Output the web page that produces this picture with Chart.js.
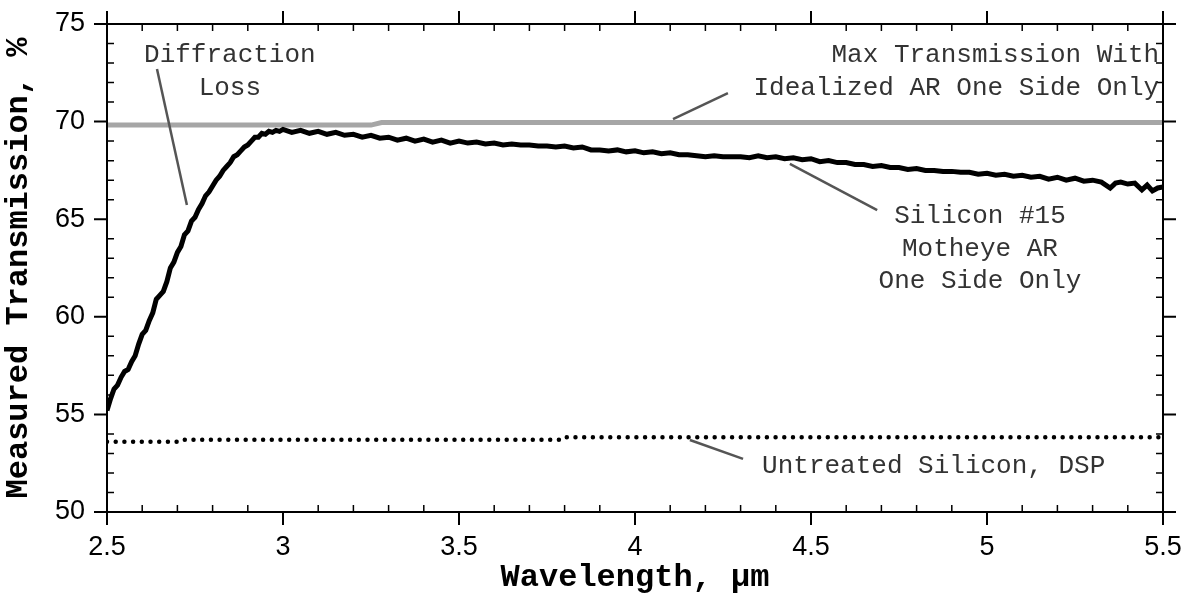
<!DOCTYPE html>
<html>
<head>
<meta charset="utf-8">
<script src="https://cdn.jsdelivr.net/npm/chart.js@4.4.1/dist/chart.umd.min.js"></script>
<style>
  html, body { margin: 0; padding: 0; background: #fff; }
  canvas { display: block; }
</style>
</head>
<body>
<canvas id="chart" width="1190" height="594"></canvas>
<script>
// measured curve, Silicon #15 motheye AR one side
var wavelength = [2.50, 2.51, 2.52, 2.53, 2.54, 2.55, 2.56, 2.57, 2.58, 2.59, 2.60, 2.61, 2.62, 2.63, 2.64,
  2.65, 2.66, 2.67, 2.68, 2.69, 2.70, 2.71, 2.72, 2.73, 2.74, 2.75, 2.76, 2.77, 2.78, 2.79, 2.80, 2.81,
  2.82, 2.83, 2.84, 2.85, 2.86, 2.87, 2.88, 2.89, 2.90, 2.91, 2.92, 2.93, 2.94, 2.95, 2.96, 2.97, 2.98,
  2.99, 3.00, 3.025, 3.05, 3.075, 3.10, 3.125, 3.15, 3.175, 3.20, 3.225, 3.25, 3.275, 3.30, 3.325, 3.35,
  3.375, 3.40, 3.425, 3.45, 3.475, 3.50, 3.525, 3.55, 3.575, 3.60, 3.625, 3.65, 3.675, 3.70, 3.725, 3.75,
  3.775, 3.80, 3.825, 3.85, 3.875, 3.90, 3.925, 3.95, 3.975, 4.00, 4.025, 4.05, 4.075, 4.10, 4.125, 4.15,
  4.175, 4.20, 4.225, 4.25, 4.275, 4.30, 4.325, 4.35, 4.375, 4.40, 4.425, 4.45, 4.475, 4.50, 4.525, 4.55,
  4.575, 4.60, 4.625, 4.65, 4.675, 4.70, 4.725, 4.75, 4.775, 4.80, 4.825, 4.85, 4.875, 4.90, 4.925, 4.95,
  4.975, 5.00, 5.025, 5.05, 5.075, 5.10, 5.125, 5.15, 5.175, 5.20, 5.225, 5.25, 5.275, 5.30, 5.325, 5.35,
  5.365, 5.38, 5.40, 5.42, 5.44, 5.455, 5.47, 5.485, 5.50]
var measured = [55.2, 55.8, 56.3, 56.5, 56.9, 57.2, 57.3, 57.7, 58.0, 58.6, 59.1, 59.3, 59.8, 60.2, 60.9,
  61.1, 61.3, 61.8, 62.5, 62.8, 63.3, 63.6, 64.2, 64.4, 64.9, 65.1, 65.5, 65.8, 66.2, 66.4, 66.7, 67.0,
  67.2, 67.5, 67.7, 67.9, 68.2, 68.3, 68.5, 68.7, 68.8, 69.0, 69.2, 69.2, 69.4, 69.35, 69.5, 69.45, 69.55,
  69.5, 69.6, 69.45, 69.55, 69.4, 69.5, 69.35, 69.45, 69.3, 69.35, 69.2, 69.3, 69.15, 69.2, 69.05, 69.15,
  69.0, 69.1, 68.95, 69.05, 68.9, 69.0, 68.9, 68.95, 68.85, 68.9, 68.8, 68.85, 68.8, 68.8, 68.75, 68.75,
  68.7, 68.75, 68.65, 68.7, 68.55, 68.55, 68.5, 68.55, 68.45, 68.5, 68.4, 68.45, 68.35, 68.4, 68.3, 68.3,
  68.25, 68.2, 68.25, 68.2, 68.2, 68.2, 68.15, 68.25, 68.15, 68.2, 68.1, 68.15, 68.05, 68.1, 67.95, 68.0,
  67.9, 67.9, 67.8, 67.8, 67.7, 67.75, 67.65, 67.65, 67.55, 67.6, 67.5, 67.5, 67.45, 67.45, 67.4, 67.4,
  67.3, 67.35, 67.25, 67.3, 67.2, 67.25, 67.15, 67.2, 67.05, 67.15, 67.0, 67.1, 66.95, 67.0, 66.9, 66.6,
  66.85, 66.9, 66.8, 66.85, 66.5, 66.75, 66.45, 66.6, 66.65]

// ideal AR one side
var maxWl = [2.5, 3.25, 3.28, 5.5]
var maxT = [69.82, 69.82, 69.95, 69.95]

// untreated DSP silicon
var untreatedWl = [2.5, 2.71, 2.72, 3.79, 3.80, 5.5]
var untreatedT = [53.6, 53.6, 53.7, 53.7, 53.83, 53.83]

var xMin = 2.5, xMax = 5.5, xStep = 0.5, xMinor = 0.1
var yMin = 50, yMax = 75, yStep = 5, yMinor = 1

// annotation labels, first line position in data units
var notes = [
  { lines: ['Diffraction', 'Loss'], x: 2.849, y: 73.4, align: 'center' },
  { lines: ['Max Transmission With', 'Idealized AR One Side Only'], x: 5.489, y: 73.4, align: 'right' },
  { lines: ['Silicon #15', 'Motheye AR', 'One Side Only'], x: 4.98, y: 65.15, align: 'center' },
  { lines: ['Untreated Silicon, DSP'], x: 4.361, y: 52.35, align: 'left' }
]
// leader lines: [x1, y1, x2, y2]
var leaders = [
  [2.642, 72.70, 2.727, 65.73],
  [4.108, 70.13, 4.264, 71.46],
  [4.440, 67.83, 4.688, 65.47],
  [4.156, 53.69, 4.307, 52.72]
]

function pts(xs, ys) {
  return xs.map(function (v, i) { return { x: v, y: ys[i] } })
}

var frameTicks = {
  id: 'frameTicks',
  afterDraw: function (chart) {
    var ctx = chart.ctx, a = chart.chartArea
    var x = chart.scales.x, y = chart.scales.y
    ctx.save()
    ctx.strokeStyle = '#000'
    ctx.lineWidth = 2
    ctx.strokeRect(a.left, a.top, a.right - a.left, a.bottom - a.top)

    var nx = Math.round((xMax - xMin) / xMinor)
    for (var i = 0; i <= nx; i++) {
      var px = x.getPixelForValue(xMin + i * xMinor)
      var major = i % Math.round(xStep / xMinor) === 0
      ctx.beginPath()
      ctx.lineWidth = major ? 2 : 1.5
      if (major) {
        ctx.moveTo(px, a.bottom); ctx.lineTo(px, a.bottom + 13)
        ctx.moveTo(px, a.top); ctx.lineTo(px, a.top - 13)
      } else {
        ctx.moveTo(px, a.bottom); ctx.lineTo(px, a.bottom - 7)
        ctx.moveTo(px, a.top); ctx.lineTo(px, a.top + 7)
      }
      ctx.stroke()
    }
    var ny = Math.round((yMax - yMin) / yMinor)
    for (var j = 0; j <= ny; j++) {
      var py = y.getPixelForValue(yMin + j * yMinor)
      var maj = j % Math.round(yStep / yMinor) === 0
      ctx.beginPath()
      ctx.lineWidth = maj ? 2 : 1.5
      if (maj) {
        ctx.moveTo(a.left, py); ctx.lineTo(a.left - 13, py)
        ctx.moveTo(a.right, py); ctx.lineTo(a.right + 13, py)
      } else {
        ctx.moveTo(a.left, py); ctx.lineTo(a.left + 7, py)
        ctx.moveTo(a.right, py); ctx.lineTo(a.right - 7, py)
      }
      ctx.stroke()
    }

    // leader lines
    ctx.strokeStyle = '#555'
    ctx.lineWidth = 2.5
    leaders.forEach(function (l) {
      ctx.beginPath()
      ctx.moveTo(x.getPixelForValue(l[0]), y.getPixelForValue(l[1]))
      ctx.lineTo(x.getPixelForValue(l[2]), y.getPixelForValue(l[3]))
      ctx.stroke()
    })

    // labels
    ctx.fillStyle = '#333'
    ctx.font = '26px "Liberation Mono", "Courier New", monospace'
    ctx.textBaseline = 'middle'
    notes.forEach(function (n) {
      ctx.textAlign = n.align
      var px = x.getPixelForValue(n.x), py = y.getPixelForValue(n.y)
      n.lines.forEach(function (t, k) {
        ctx.fillText(t, px, py + k * 32.5)
      })
    })
    ctx.restore()
  }
}

var ctx = document.getElementById('chart').getContext('2d')

new Chart(ctx, {
  type: 'line',
  data: {
    datasets: [{
      label: 'Silicon #15 Motheye AR One Side Only',
      data: pts(wavelength, measured),
      borderColor: '#000',
      borderWidth: 5,
      pointRadius: 0,
      tension: 0,
      order: 1
    }, {
      label: 'Max Transmission With Idealized AR One Side Only',
      data: pts(maxWl, maxT),
      borderColor: '#a6a6a6',
      borderWidth: 5,
      pointRadius: 0,
      order: 3
    }, {
      label: 'Untreated Silicon, DSP',
      data: pts(untreatedWl, untreatedT),
      borderColor: '#000',
      borderWidth: 4.5,
      borderDash: [0, 8.7],
      borderCapStyle: 'round',
      pointRadius: 0,
      order: 2
    }]
  },
  options: {
    responsive: false,
    animation: false,
    devicePixelRatio: 1,
    layout: { padding: { top: 24, right: 27, left: 0, bottom: 0 } },
    plugins: { legend: { display: false }, tooltip: { enabled: false } },
    scales: {
      x: {
        type: 'linear',
        min: xMin, max: xMax,
        grid: { display: false },
        border: { display: false },
        ticks: {
          stepSize: xStep, padding: 11, color: '#000',
          font: { family: '"Liberation Sans", Arial', size: 27 },
          callback: function (v) { return String(+v.toFixed(1)) }
        },
        title: {
          display: true, text: 'Wavelength, µm', color: '#000', padding: 0,
          font: { family: '"Liberation Mono", "Courier New", monospace', size: 32, weight: 'bold', lineHeight: 1 }
        },
        afterFit: function (s) {
          s.height = 82
          s.paddingLeft = 0; s.paddingRight = 0
        }
      },
      y: {
        min: yMin, max: yMax,
        grid: { display: false },
        border: { display: false },
        ticks: { stepSize: yStep, padding: 14, color: '#000', font: { family: '"Liberation Sans", Arial', size: 27 } },
        title: {
          display: true, text: 'Measured Transmission, %', color: '#000', padding: 0,
          font: { family: '"Liberation Mono", "Courier New", monospace', size: 32, weight: 'bold' }
        },
        afterFit: function (s) {
          s.width = 107
          s.paddingTop = 0; s.paddingBottom = 0
        }
      }
    }
  },
  plugins: [frameTicks]
})
</script>
</body>
</html>
